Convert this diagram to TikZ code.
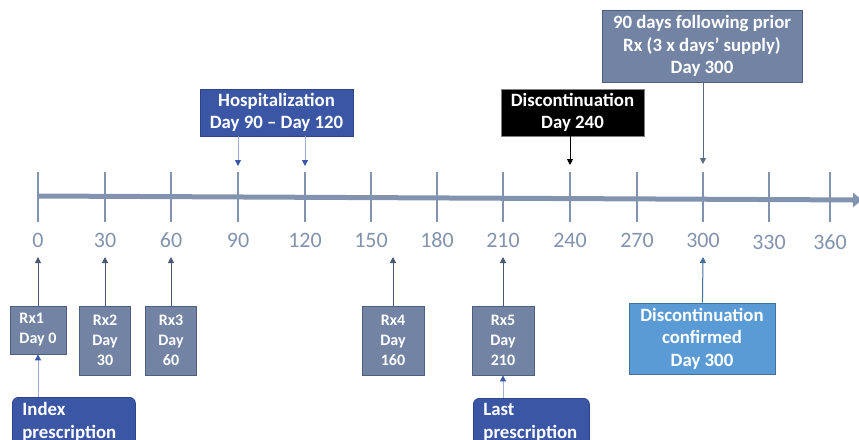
\documentclass[tikz,border=0pt]{standalone}
\usepackage{fontspec}
\setmainfont{Carlito}
\usetikzlibrary{arrows.meta}

\definecolor{axisgray}{HTML}{8193AF}
\definecolor{rxfill}{HTML}{7283A3}
\definecolor{rxline}{HTML}{4D5E7E}
\definecolor{darkslate}{HTML}{4A5A72}
\definecolor{hospblue}{HTML}{3A56A5}
\definecolor{hospline}{HTML}{2E4689}
\definecolor{paleblue}{HTML}{9DB0D6}
\definecolor{confblue}{HTML}{5B9BD5}
\definecolor{confline}{HTML}{41719C}

\tikzset{
  tickmark/.style={draw=axisgray, line width=2.2pt},
  ticklabel/.style={text=axisgray, font=\fontsize{22}{24}\selectfont, inner sep=0pt},
  rxbox/.style={fill=rxfill, draw=rxline, line width=0.8pt, text=white, align=center,
    font=\bfseries\fontsize{16}{20}\selectfont, minimum width=51, minimum height=69, inner sep=0pt},
  eventbox/.style={draw, line width=0.8pt, text=white, align=center,
    font=\bfseries\fontsize{18.8}{22.5}\selectfont, inner sep=0pt},
  notebox/.style={fill=hospblue, draw=hospline, line width=0.8pt, rounded corners=6pt, text=white,
    align=left, font=\bfseries\fontsize{18.8}{22.5}\selectfont, inner xsep=10pt, inner ysep=5pt, anchor=north west},
  rxarrow/.style={draw=darkslate, line width=1pt, -{Triangle[length=6pt, width=6pt]}},
  palearrow/.style={draw=paleblue, line width=1pt, -{Triangle[length=6pt, width=6pt, color=hospblue]}}
}

\begin{document}
\begin{tikzpicture}[x=1pt, y=-1pt]
  \path[use as bounding box] (0, 0) rectangle (859, 439);
  \clip (0, 0) rectangle (859, 439);

  % time axis
  \draw[axisgray, line width=5pt, -{Triangle[length=9pt, width=14pt]}] (38, 196) -- (862, 200);
  \draw[tickmark] (38, 172) -- (38, 222);
  \draw[tickmark] (105, 172) -- (105, 222);
  \draw[tickmark] (171, 172) -- (171, 222);
  \draw[tickmark] (238, 172) -- (238, 222);
  \draw[tickmark] (305, 172) -- (305, 222);
  \draw[tickmark] (371, 172) -- (371, 222);
  \draw[tickmark] (437, 172) -- (437, 222);
  \draw[tickmark] (503, 172) -- (503, 222);
  \draw[tickmark] (570, 172) -- (570, 222);
  \draw[tickmark] (637, 172) -- (637, 222);
  \draw[tickmark] (703, 172) -- (703, 222);
  \draw[tickmark] (769, 172) -- (769, 222);
  \draw[tickmark] (830, 172) -- (830, 222);
  \node (l0) at (38, 240) [ticklabel] {0};
  \node (l30) at (105, 240) [ticklabel] {30};
  \node (l60) at (171, 240) [ticklabel] {60};
  \node (l90) at (238, 240) [ticklabel] {90};
  \node (l120) at (305, 240) [ticklabel] {120};
  \node (l150) at (371, 240) [ticklabel] {150};
  \node (l180) at (437, 240) [ticklabel] {180};
  \node (l210) at (503, 240) [ticklabel] {210};
  \node (l240) at (570, 240) [ticklabel] {240};
  \node (l270) at (637, 240) [ticklabel] {270};
  \node (l300) at (703, 240) [ticklabel] {300};
  \node (l330) at (769, 242) [ticklabel] {330};
  \node (l360) at (830, 242) [ticklabel] {360};

  % arrow ends above and below the axis
  \coordinate (a90) at (238, 166);
  \coordinate (a120) at (305, 166);
  \coordinate (a240) at (570, 165);
  \coordinate (a300) at (703, 164);
  \coordinate (b0) at (38, 257);
  \coordinate (b30) at (105, 257);
  \coordinate (b60) at (171, 257);
  \coordinate (b160) at (393, 257);
  \coordinate (b210) at (503, 257);
  \coordinate (b300) at (703, 257);

  % events above the axis
  \node (hosp) at (276.5, 112.5) [eventbox, fill=hospblue, draw=hospline, minimum width=153, minimum height=47]
    {Hospitalization\\Day 90 – Day 120};
  \node (disc) at (572.5, 112.5) [eventbox, fill=black, draw=gray, minimum width=143, minimum height=47]
    {Discontinuation\\Day 240};
  \node (prior) at (702, 46) [eventbox, fill=rxfill, draw=rxline, minimum width=200, minimum height=72]
    {90 days following prior\\Rx (3 x days’ supply)\\Day 300};
  \draw[palearrow] (hosp.south -| a90) -- (a90);
  \draw[palearrow] (hosp.south -| a120) -- (a120);
  \draw[line width=1pt, -{Triangle[length=6pt, width=6pt]}] (disc.south -| a240) -- (a240);
  \draw[rxarrow, draw=rxfill!80!black] (prior.south -| a300) -- (a300);

  % prescriptions below the axis
  \node (rx1) at (38, 330) [rxbox, align=left, minimum width=56, minimum height=48] {Rx1\\Day 0};
  \node (rx2) at (105, 340.5) [rxbox] {Rx2\\Day\\30};
  \node (rx3) at (171, 340.5) [rxbox] {Rx3\\Day\\60};
  \node (rx4) at (393, 340.5) [rxbox, minimum width=62] {Rx4\\Day\\160};
  \node (rx5) at (503, 340.5) [rxbox, minimum width=62] {Rx5\\Day\\210};
  \node (conf) at (702, 338.5) [eventbox, fill=confblue, draw=confline, minimum width=146, minimum height=71]
    {Discontinuation\\confirmed\\Day 300};
  \draw[rxarrow] (rx1) -- (b0);
  \draw[rxarrow] (rx2) -- (b30);
  \draw[rxarrow] (rx3) -- (b60);
  \draw[rxarrow] (rx4) -- (b160);
  \draw[rxarrow] (rx5) -- (b210);
  \draw[rxarrow, draw=confline] (conf) -- (b300);

  \node (index) at (12, 397) [notebox, text width=103] {Index\\prescription};
  \node (last) at (473, 398) [notebox, text width=96] {Last\\prescription};
  \draw[palearrow] (index.north -| rx1) -- (rx1);
  \draw[palearrow] (last.north -| rx5) -- (rx5);
\end{tikzpicture}
\end{document}
